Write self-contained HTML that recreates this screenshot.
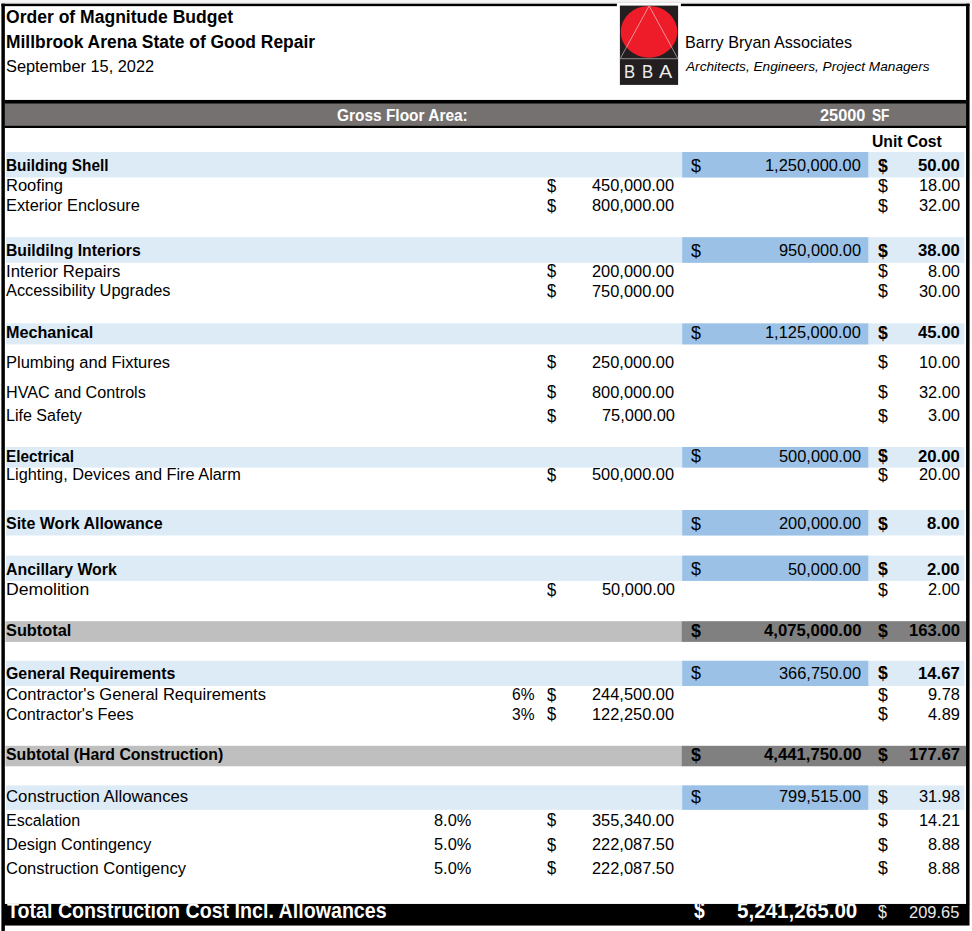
<!DOCTYPE html>
<html><head><meta charset="utf-8"><title>Order of Magnitude Budget</title>
<style>
html,body{margin:0;padding:0;background:#fff;}
body{width:972px;height:931px;position:relative;overflow:hidden;font-family:"Liberation Sans",sans-serif;color:#000;}
svg.bg,svg.logo{position:absolute;left:0;top:0;}
.t{position:absolute;white-space:pre;line-height:20px;transform-origin:0 0;display:block;}
.clip{position:absolute;left:0;top:0;width:972px;height:931px;clip-path:inset(903.9px 0 0 0);}
.bba{position:absolute;color:#ececec;line-height:20px;font-size:17.6px;transform-origin:0 0;white-space:pre;}
</style></head><body>
<svg class="bg" width="972" height="931" viewBox="0 0 972 931" shape-rendering="geometricPrecision"><rect x="0.00" y="0.00" width="972.00" height="2.60" fill="#f4f4f4"/><rect x="0.00" y="2.40" width="972.00" height="0.90" fill="#e4e4e4"/><rect x="6.10" y="152.00" width="958.30" height="25.50" fill="#ddebf7"/><rect x="682.20" y="152.00" width="186.10" height="25.50" fill="#9bc2e6"/><rect x="6.10" y="237.20" width="958.30" height="25.60" fill="#ddebf7"/><rect x="682.20" y="237.20" width="186.10" height="25.60" fill="#9bc2e6"/><rect x="6.10" y="323.40" width="958.30" height="21.00" fill="#ddebf7"/><rect x="682.20" y="323.40" width="186.10" height="21.00" fill="#9bc2e6"/><rect x="6.10" y="447.00" width="958.30" height="20.60" fill="#ddebf7"/><rect x="682.20" y="447.00" width="186.10" height="20.60" fill="#9bc2e6"/><rect x="6.10" y="510.00" width="958.30" height="25.50" fill="#ddebf7"/><rect x="682.20" y="510.00" width="186.10" height="25.50" fill="#9bc2e6"/><rect x="6.10" y="555.60" width="958.30" height="25.30" fill="#ddebf7"/><rect x="682.20" y="555.60" width="186.10" height="25.30" fill="#9bc2e6"/><rect x="5.40" y="621.20" width="676.80" height="20.70" fill="#bfbfbf"/><rect x="681.80" y="621.20" width="284.40" height="20.70" fill="#808080"/><rect x="6.10" y="660.80" width="958.30" height="25.20" fill="#ddebf7"/><rect x="682.20" y="660.80" width="186.10" height="25.20" fill="#9bc2e6"/><rect x="5.40" y="745.80" width="676.80" height="20.50" fill="#bfbfbf"/><rect x="681.80" y="745.80" width="284.40" height="20.50" fill="#808080"/><rect x="6.10" y="785.40" width="958.30" height="24.40" fill="#ddebf7"/><rect x="682.20" y="785.40" width="186.10" height="24.40" fill="#9bc2e6"/><rect x="4.50" y="103.50" width="961.70" height="22.50" fill="#767171"/><rect x="4.50" y="99.95" width="961.70" height="3.75" fill="#000"/><rect x="4.50" y="125.80" width="961.70" height="2.20" fill="#000"/><rect x="1.40" y="3.70" width="3.45" height="927.30" fill="#000"/><rect x="1.40" y="3.70" width="968.15" height="2.45" fill="#000"/><rect x="966.05" y="3.70" width="3.50" height="900.80" fill="#000"/><rect x="3.00" y="903.95" width="966.50" height="21.60" fill="#000"/><rect x="616.90" y="2.70" width="64.00" height="85.30" fill="#fff"/><rect x="616.90" y="1.90" width="64.00" height="0.80" fill="#dcdcdc"/></svg>
<svg class="logo" width="972" height="931" viewBox="0 0 972 931">
<defs><clipPath id="ec"><ellipse cx="649" cy="31.8" rx="28.3" ry="25.9"/></clipPath></defs>
<rect x="619.9" y="5.6" width="58.2" height="79.3" fill="#231f20"/>
<path d="M620.2 58.7 L649.1 5.9 L677.9 58.7" fill="none" stroke="#a9a7a8" stroke-width="0.8"/>
<ellipse cx="649" cy="31.8" rx="28.3" ry="25.9" fill="#ed1c28"/>
<path d="M620.2 58.7 L649.1 5.9 L677.9 58.7" fill="none" stroke="#f3b4b8" stroke-width="0.8" clip-path="url(#ec)"/>
<path d="M619.9 58.7 H678.1" stroke="#8d8b8c" stroke-width="1"/>
</svg>
<span class="bba" style="left:624.4px;top:61.9px;transform:scaleX(0.95)">B</span>
<span class="bba" style="left:641.8px;top:61.9px;transform:scaleX(0.95)">B</span>
<span class="bba" style="left:658.9px;top:61.9px;transform:scaleX(1.12)">A</span>
<span class="t" style="left:6.43px;top:7.40px;font-size:17.5px;font-weight:bold;transform:scaleX(1.0024);">Order of Magnitude Budget</span><span class="t" style="left:6.20px;top:31.80px;font-size:17.5px;font-weight:bold;transform:scaleX(0.9954);">Millbrook Arena State of Good Repair</span><span class="t" style="left:6.12px;top:56.90px;font-size:16.0px;transform:scaleX(1.0211);">September 15, 2022</span><span class="t" style="left:685.43px;top:33.00px;font-size:16.95px;transform:scaleX(0.9549);">Barry Bryan Associates</span><span class="t" style="left:686.02px;top:57.30px;font-size:12.7px;font-style:italic;transform:scaleX(1.0760);">Architects, Engineers, Project Managers</span><span class="t" style="left:336.96px;top:105.80px;font-size:16.0px;font-weight:bold;color:#fff;transform:scaleX(0.9652);">Gross Floor Area:</span><span class="t" style="left:820.22px;top:105.80px;font-size:16.0px;font-weight:bold;color:#fff;transform-origin:0 15px;transform:scale(1.0200,1.04);">25000</span><span class="t" style="left:872.33px;top:105.70px;font-size:16.0px;font-weight:bold;color:#fff;transform:scaleX(0.8534);">SF</span><span class="t" style="left:871.72px;top:132.00px;font-size:16.0px;font-weight:bold;transform:scaleX(0.9814);">Unit Cost</span><span class="t" style="left:5.94px;top:156.30px;font-size:16.0px;font-weight:bold;transform:scaleX(0.9611);">Building Shell</span><span class="t" style="left:690.63px;top:156.80px;font-size:16.0px;transform-origin:0 15px;transform:scale(1.1160,1.1);">$</span><span class="t" style="left:765.15px;top:156.40px;font-size:16.0px;transform-origin:0 15px;transform:scale(1.0253,1.04);">1,250,000.00</span><span class="t" style="left:877.53px;top:156.80px;font-size:16.0px;font-weight:bold;transform-origin:0 15px;transform:scale(1.1040,1.1);">$</span><span class="t" style="left:918.15px;top:156.40px;font-size:16.0px;font-weight:bold;transform-origin:0 15px;transform:scale(1.0437,1.04);">50.00</span><span class="t" style="left:5.82px;top:176.30px;font-size:16.0px;transform:scaleX(1.0321);">Roofing</span><span class="t" style="left:547.26px;top:176.80px;font-size:16.0px;transform-origin:0 15px;transform:scale(1.0320,1.1);">$</span><span class="t" style="left:592.32px;top:176.40px;font-size:16.0px;transform-origin:0 15px;transform:scale(1.0253,1.04);">450,000.00</span><span class="t" style="left:877.53px;top:176.80px;font-size:16.0px;transform-origin:0 15px;transform:scale(1.1040,1.1);">$</span><span class="t" style="left:918.53px;top:176.40px;font-size:16.0px;transform-origin:0 15px;transform:scale(1.0253,1.04);">18.00</span><span class="t" style="left:5.84px;top:196.10px;font-size:16.0px;transform:scaleX(1.0236);">Exterior Enclosure</span><span class="t" style="left:547.26px;top:196.60px;font-size:16.0px;transform-origin:0 15px;transform:scale(1.0320,1.1);">$</span><span class="t" style="left:592.32px;top:196.20px;font-size:16.0px;transform-origin:0 15px;transform:scale(1.0253,1.04);">800,000.00</span><span class="t" style="left:877.53px;top:196.60px;font-size:16.0px;transform-origin:0 15px;transform:scale(1.1040,1.1);">$</span><span class="t" style="left:918.53px;top:196.20px;font-size:16.0px;transform-origin:0 15px;transform:scale(1.0253,1.04);">32.00</span><span class="t" style="left:5.92px;top:241.30px;font-size:16.0px;font-weight:bold;transform:scaleX(0.9835);">Buildilng Interiors</span><span class="t" style="left:690.63px;top:241.80px;font-size:16.0px;transform-origin:0 15px;transform:scale(1.1160,1.1);">$</span><span class="t" style="left:778.82px;top:241.40px;font-size:16.0px;transform-origin:0 15px;transform:scale(1.0253,1.04);">950,000.00</span><span class="t" style="left:877.53px;top:241.80px;font-size:16.0px;font-weight:bold;transform-origin:0 15px;transform:scale(1.1040,1.1);">$</span><span class="t" style="left:918.15px;top:241.40px;font-size:16.0px;font-weight:bold;transform-origin:0 15px;transform:scale(1.0437,1.04);">38.00</span><span class="t" style="left:5.80px;top:261.70px;font-size:16.0px;transform:scaleX(1.0467);">Interior Repairs</span><span class="t" style="left:547.26px;top:262.20px;font-size:16.0px;transform-origin:0 15px;transform:scale(1.0320,1.1);">$</span><span class="t" style="left:592.32px;top:261.80px;font-size:16.0px;transform-origin:0 15px;transform:scale(1.0253,1.04);">200,000.00</span><span class="t" style="left:877.53px;top:262.20px;font-size:16.0px;transform-origin:0 15px;transform:scale(1.1040,1.1);">$</span><span class="t" style="left:927.76px;top:261.80px;font-size:16.0px;transform-origin:0 15px;transform:scale(1.0253,1.04);">8.00</span><span class="t" style="left:6.40px;top:281.40px;font-size:16.0px;transform:scaleX(1.0222);">Accessibility Upgrades</span><span class="t" style="left:547.26px;top:281.90px;font-size:16.0px;transform-origin:0 15px;transform:scale(1.0320,1.1);">$</span><span class="t" style="left:592.32px;top:281.50px;font-size:16.0px;transform-origin:0 15px;transform:scale(1.0253,1.04);">750,000.00</span><span class="t" style="left:877.53px;top:281.90px;font-size:16.0px;transform-origin:0 15px;transform:scale(1.1040,1.1);">$</span><span class="t" style="left:918.53px;top:281.50px;font-size:16.0px;transform-origin:0 15px;transform:scale(1.0253,1.04);">30.00</span><span class="t" style="left:5.89px;top:323.00px;font-size:16.0px;font-weight:bold;transform:scaleX(1.0115);">Mechanical</span><span class="t" style="left:690.63px;top:323.50px;font-size:16.0px;transform-origin:0 15px;transform:scale(1.1160,1.1);">$</span><span class="t" style="left:765.15px;top:323.10px;font-size:16.0px;transform-origin:0 15px;transform:scale(1.0253,1.04);">1,125,000.00</span><span class="t" style="left:877.53px;top:323.50px;font-size:16.0px;font-weight:bold;transform-origin:0 15px;transform:scale(1.1040,1.1);">$</span><span class="t" style="left:918.15px;top:323.10px;font-size:16.0px;font-weight:bold;transform-origin:0 15px;transform:scale(1.0437,1.04);">45.00</span><span class="t" style="left:5.83px;top:352.80px;font-size:16.0px;transform:scaleX(1.0309);">Plumbing and Fixtures</span><span class="t" style="left:547.26px;top:353.30px;font-size:16.0px;transform-origin:0 15px;transform:scale(1.0320,1.1);">$</span><span class="t" style="left:592.32px;top:352.90px;font-size:16.0px;transform-origin:0 15px;transform:scale(1.0253,1.04);">250,000.00</span><span class="t" style="left:877.53px;top:353.30px;font-size:16.0px;transform-origin:0 15px;transform:scale(1.1040,1.1);">$</span><span class="t" style="left:918.53px;top:352.90px;font-size:16.0px;transform-origin:0 15px;transform:scale(1.0253,1.04);">10.00</span><span class="t" style="left:5.85px;top:382.50px;font-size:16.0px;transform:scaleX(1.0098);">HVAC and Controls</span><span class="t" style="left:547.26px;top:383.00px;font-size:16.0px;transform-origin:0 15px;transform:scale(1.0320,1.1);">$</span><span class="t" style="left:592.32px;top:382.60px;font-size:16.0px;transform-origin:0 15px;transform:scale(1.0253,1.04);">800,000.00</span><span class="t" style="left:877.53px;top:383.00px;font-size:16.0px;transform-origin:0 15px;transform:scale(1.1040,1.1);">$</span><span class="t" style="left:918.53px;top:382.60px;font-size:16.0px;transform-origin:0 15px;transform:scale(1.0253,1.04);">32.00</span><span class="t" style="left:5.86px;top:406.00px;font-size:16.0px;transform:scaleX(1.0036);">Life Safety</span><span class="t" style="left:547.26px;top:406.50px;font-size:16.0px;transform-origin:0 15px;transform:scale(1.0320,1.1);">$</span><span class="t" style="left:601.55px;top:406.10px;font-size:16.0px;transform-origin:0 15px;transform:scale(1.0253,1.04);">75,000.00</span><span class="t" style="left:877.53px;top:406.50px;font-size:16.0px;transform-origin:0 15px;transform:scale(1.1040,1.1);">$</span><span class="t" style="left:927.76px;top:406.10px;font-size:16.0px;transform-origin:0 15px;transform:scale(1.0253,1.04);">3.00</span><span class="t" style="left:5.94px;top:446.80px;font-size:16.0px;font-weight:bold;transform:scaleX(0.9565);">Electrical</span><span class="t" style="left:690.63px;top:447.30px;font-size:16.0px;transform-origin:0 15px;transform:scale(1.1160,1.1);">$</span><span class="t" style="left:778.82px;top:446.90px;font-size:16.0px;transform-origin:0 15px;transform:scale(1.0253,1.04);">500,000.00</span><span class="t" style="left:877.53px;top:447.30px;font-size:16.0px;font-weight:bold;transform-origin:0 15px;transform:scale(1.1040,1.1);">$</span><span class="t" style="left:918.15px;top:446.90px;font-size:16.0px;font-weight:bold;transform-origin:0 15px;transform:scale(1.0437,1.04);">20.00</span><span class="t" style="left:5.84px;top:465.30px;font-size:16.0px;transform:scaleX(1.0197);">Lighting, Devices and Fire Alarm</span><span class="t" style="left:547.26px;top:465.80px;font-size:16.0px;transform-origin:0 15px;transform:scale(1.0320,1.1);">$</span><span class="t" style="left:592.32px;top:465.40px;font-size:16.0px;transform-origin:0 15px;transform:scale(1.0253,1.04);">500,000.00</span><span class="t" style="left:877.53px;top:465.80px;font-size:16.0px;transform-origin:0 15px;transform:scale(1.1040,1.1);">$</span><span class="t" style="left:918.53px;top:465.40px;font-size:16.0px;transform-origin:0 15px;transform:scale(1.0253,1.04);">20.00</span><span class="t" style="left:5.83px;top:514.10px;font-size:16.0px;font-weight:bold;transform:scaleX(1.0004);">Site Work Allowance</span><span class="t" style="left:690.63px;top:514.60px;font-size:16.0px;transform-origin:0 15px;transform:scale(1.1160,1.1);">$</span><span class="t" style="left:778.82px;top:514.20px;font-size:16.0px;transform-origin:0 15px;transform:scale(1.0253,1.04);">200,000.00</span><span class="t" style="left:877.53px;top:514.60px;font-size:16.0px;font-weight:bold;transform-origin:0 15px;transform:scale(1.1040,1.1);">$</span><span class="t" style="left:927.19px;top:514.20px;font-size:16.0px;font-weight:bold;transform-origin:0 15px;transform:scale(1.0437,1.04);">8.00</span><span class="t" style="left:5.97px;top:559.80px;font-size:16.0px;font-weight:bold;transform:scaleX(0.9916);">Ancillary Work</span><span class="t" style="left:690.63px;top:560.30px;font-size:16.0px;transform-origin:0 15px;transform:scale(1.1160,1.1);">$</span><span class="t" style="left:788.05px;top:559.90px;font-size:16.0px;transform-origin:0 15px;transform:scale(1.0253,1.04);">50,000.00</span><span class="t" style="left:877.53px;top:560.30px;font-size:16.0px;font-weight:bold;transform-origin:0 15px;transform:scale(1.1040,1.1);">$</span><span class="t" style="left:927.19px;top:559.90px;font-size:16.0px;font-weight:bold;transform-origin:0 15px;transform:scale(1.0437,1.04);">2.00</span><span class="t" style="left:5.73px;top:580.20px;font-size:16.0px;transform:scaleX(1.1005);">Demolition</span><span class="t" style="left:547.26px;top:580.70px;font-size:16.0px;transform-origin:0 15px;transform:scale(1.0320,1.1);">$</span><span class="t" style="left:601.55px;top:580.30px;font-size:16.0px;transform-origin:0 15px;transform:scale(1.0253,1.04);">50,000.00</span><span class="t" style="left:877.53px;top:580.70px;font-size:16.0px;transform-origin:0 15px;transform:scale(1.1040,1.1);">$</span><span class="t" style="left:927.76px;top:580.30px;font-size:16.0px;transform-origin:0 15px;transform:scale(1.0253,1.04);">2.00</span><span class="t" style="left:5.72px;top:621.00px;font-size:16.0px;font-weight:bold;transform:scaleX(1.0203);">Subtotal</span><span class="t" style="left:690.63px;top:621.50px;font-size:16.0px;font-weight:bold;transform-origin:0 15px;transform:scale(1.1160,1.1);">$</span><span class="t" style="left:763.79px;top:621.10px;font-size:16.0px;font-weight:bold;transform-origin:0 15px;transform:scale(1.0437,1.04);">4,075,000.00</span><span class="t" style="left:877.53px;top:621.50px;font-size:16.0px;font-weight:bold;transform-origin:0 15px;transform:scale(1.1040,1.1);">$</span><span class="t" style="left:908.76px;top:621.10px;font-size:16.0px;font-weight:bold;transform-origin:0 15px;transform:scale(1.0437,1.04);">163.00</span><span class="t" style="left:5.94px;top:663.80px;font-size:16.0px;font-weight:bold;transform:scaleX(0.9921);">General Requirements</span><span class="t" style="left:690.63px;top:664.30px;font-size:16.0px;transform-origin:0 15px;transform:scale(1.1160,1.1);">$</span><span class="t" style="left:778.82px;top:663.90px;font-size:16.0px;transform-origin:0 15px;transform:scale(1.0253,1.04);">366,750.00</span><span class="t" style="left:877.53px;top:664.30px;font-size:16.0px;font-weight:bold;transform-origin:0 15px;transform:scale(1.1040,1.1);">$</span><span class="t" style="left:918.15px;top:663.90px;font-size:16.0px;font-weight:bold;transform-origin:0 15px;transform:scale(1.0437,1.04);">14.67</span><span class="t" style="left:6.11px;top:685.30px;font-size:16.0px;transform:scaleX(1.0352);">Contractor&#x27;s General Requirements</span><span class="t" style="left:547.26px;top:685.80px;font-size:16.0px;transform-origin:0 15px;transform:scale(1.0320,1.1);">$</span><span class="t" style="left:592.32px;top:685.40px;font-size:16.0px;transform-origin:0 15px;transform:scale(1.0253,1.04);">244,500.00</span><span class="t" style="left:512.35px;top:685.30px;font-size:16.0px;transform:scaleX(0.9727);">6%</span><span class="t" style="left:877.53px;top:685.80px;font-size:16.0px;transform-origin:0 15px;transform:scale(1.1040,1.1);">$</span><span class="t" style="left:927.76px;top:685.40px;font-size:16.0px;transform-origin:0 15px;transform:scale(1.0253,1.04);">9.78</span><span class="t" style="left:6.12px;top:704.60px;font-size:16.0px;transform:scaleX(1.0155);">Contractor&#x27;s Fees</span><span class="t" style="left:547.26px;top:705.10px;font-size:16.0px;transform-origin:0 15px;transform:scale(1.0320,1.1);">$</span><span class="t" style="left:592.32px;top:704.70px;font-size:16.0px;transform-origin:0 15px;transform:scale(1.0253,1.04);">122,250.00</span><span class="t" style="left:512.35px;top:704.60px;font-size:16.0px;transform:scaleX(0.9727);">3%</span><span class="t" style="left:877.53px;top:705.10px;font-size:16.0px;transform-origin:0 15px;transform:scale(1.1040,1.1);">$</span><span class="t" style="left:928.10px;top:704.70px;font-size:16.0px;transform-origin:0 15px;transform:scale(1.0253,1.04);">4.89</span><span class="t" style="left:5.74px;top:745.10px;font-size:16.0px;font-weight:bold;transform:scaleX(0.9893);">Subtotal (Hard Construction)</span><span class="t" style="left:690.63px;top:745.60px;font-size:16.0px;font-weight:bold;transform-origin:0 15px;transform:scale(1.1160,1.1);">$</span><span class="t" style="left:763.79px;top:745.20px;font-size:16.0px;font-weight:bold;transform-origin:0 15px;transform:scale(1.0437,1.04);">4,441,750.00</span><span class="t" style="left:877.53px;top:745.60px;font-size:16.0px;font-weight:bold;transform-origin:0 15px;transform:scale(1.1040,1.1);">$</span><span class="t" style="left:908.76px;top:745.20px;font-size:16.0px;font-weight:bold;transform-origin:0 15px;transform:scale(1.0437,1.04);">177.67</span><span class="t" style="left:6.10px;top:787.10px;font-size:16.0px;transform:scaleX(1.0451);">Construction Allowances</span><span class="t" style="left:690.63px;top:787.60px;font-size:16.0px;transform-origin:0 15px;transform:scale(1.1160,1.1);">$</span><span class="t" style="left:778.82px;top:787.20px;font-size:16.0px;transform-origin:0 15px;transform:scale(1.0253,1.04);">799,515.00</span><span class="t" style="left:877.53px;top:787.60px;font-size:16.0px;transform-origin:0 15px;transform:scale(1.1040,1.1);">$</span><span class="t" style="left:918.87px;top:787.20px;font-size:16.0px;transform-origin:0 15px;transform:scale(1.0253,1.04);">31.98</span><span class="t" style="left:5.86px;top:810.80px;font-size:16.0px;transform:scaleX(1.0047);">Escalation</span><span class="t" style="left:547.26px;top:811.30px;font-size:16.0px;transform-origin:0 15px;transform:scale(1.0320,1.1);">$</span><span class="t" style="left:592.32px;top:810.90px;font-size:16.0px;transform-origin:0 15px;transform:scale(1.0253,1.04);">355,340.00</span><span class="t" style="left:433.72px;top:810.80px;font-size:16.0px;transform:scaleX(1.0245);">8.0%</span><span class="t" style="left:877.53px;top:811.30px;font-size:16.0px;transform-origin:0 15px;transform:scale(1.1040,1.1);">$</span><span class="t" style="left:918.87px;top:810.90px;font-size:16.0px;transform-origin:0 15px;transform:scale(1.0253,1.04);">14.21</span><span class="t" style="left:5.85px;top:835.20px;font-size:16.0px;transform:scaleX(1.0151);">Design Contingency</span><span class="t" style="left:547.26px;top:835.70px;font-size:16.0px;transform-origin:0 15px;transform:scale(1.0320,1.1);">$</span><span class="t" style="left:592.32px;top:835.30px;font-size:16.0px;transform-origin:0 15px;transform:scale(1.0253,1.04);">222,087.50</span><span class="t" style="left:433.72px;top:835.20px;font-size:16.0px;transform:scaleX(1.0245);">5.0%</span><span class="t" style="left:877.53px;top:835.70px;font-size:16.0px;transform-origin:0 15px;transform:scale(1.1040,1.1);">$</span><span class="t" style="left:927.76px;top:835.30px;font-size:16.0px;transform-origin:0 15px;transform:scale(1.0253,1.04);">8.88</span><span class="t" style="left:6.11px;top:858.80px;font-size:16.0px;transform:scaleX(1.0324);">Construction Contigency</span><span class="t" style="left:547.26px;top:859.30px;font-size:16.0px;transform-origin:0 15px;transform:scale(1.0320,1.1);">$</span><span class="t" style="left:592.32px;top:858.90px;font-size:16.0px;transform-origin:0 15px;transform:scale(1.0253,1.04);">222,087.50</span><span class="t" style="left:433.72px;top:858.80px;font-size:16.0px;transform:scaleX(1.0245);">5.0%</span><span class="t" style="left:877.53px;top:859.30px;font-size:16.0px;transform-origin:0 15px;transform:scale(1.1040,1.1);">$</span><span class="t" style="left:927.76px;top:858.90px;font-size:16.0px;transform-origin:0 15px;transform:scale(1.0253,1.04);">8.88</span><span class="t" style="left:877.97px;top:903.30px;font-size:16.0px;color:#e8e8e8;transform-origin:0 15px;transform:scale(0.9960,1.1);">$</span><span class="t" style="left:909.01px;top:902.90px;font-size:16.0px;color:#e8e8e8;transform-origin:0 15px;transform:scale(1.0280,1.04);">209.65</span>
<div class="clip"><span class="t" style="left:6.69px;top:900.70px;font-size:21.4px;font-weight:bold;color:#fff;transform:scaleX(0.9179);">Total Construction Cost Incl. Allowances</span><span class="t" style="left:693.90px;top:901.30px;font-size:21.4px;font-weight:bold;color:#fff;transform-origin:0 17px;transform:scale(0.9000,1.1);">$</span><span class="t" style="left:737.26px;top:900.90px;font-size:21.4px;font-weight:bold;color:#fff;transform-origin:0 17px;transform:scale(0.9632,1.04);">5,241,265.00</span></div>
</body></html>
